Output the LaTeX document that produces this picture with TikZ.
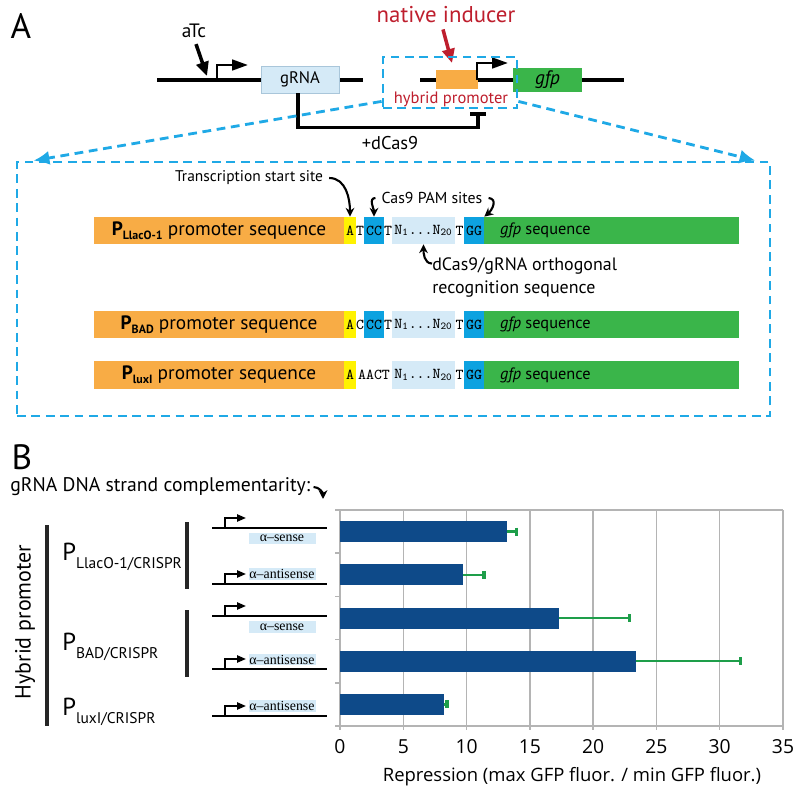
\documentclass[tikz,border=0pt]{standalone}
\usepackage{fontspec}
\setmainfont{PT Sans}
\newfontfamily\chartfont{Open Sans}
\newfontfamily\greekfont{Liberation Serif}
\usetikzlibrary{arrows.meta, positioning, calc}
\definecolor{promorange}{HTML}{F8AC45}
\definecolor{tssyellow}{HTML}{FFF200}
\definecolor{pamblue}{HTML}{0DA2E0}
\definecolor{guidelight}{HTML}{D5EAF7}
\definecolor{guideedge}{HTML}{A9C6DA}
\definecolor{gfpgreen}{HTML}{3AB54A}
\definecolor{zoomcyan}{HTML}{1FA9E6}
\definecolor{inducerred}{HTML}{BE1E2D}
\definecolor{barblue}{HTML}{0E4A89}
\definecolor{errgreen}{HTML}{1E9E4A}
\definecolor{gridgray}{HTML}{B4B4B4}
\newcommand\fsz[1]{\fontsize{#1}{#1}\selectfont}
\newcommand\seqf{\ttfamily\fsz{8.6}}

\begin{document}
\begin{tikzpicture}[
  x=0.2mm, y=-0.2mm,
  dna/.style={line width=2pt},
  promo/.style={line width=1.5pt, -{Triangle[length=9pt, width=6pt]}},
  seqbox/.style={inner sep=0, minimum height=5.4mm},
  seqtxt/.style={inner sep=0, font=\seqf},
  curvy/.style={line width=1.2pt, -{Stealth[length=5pt, width=5pt]}},
  zoomline/.style={zoomcyan, line width=1.6pt, dash pattern=on 5pt off 3.2pt},
  cline/.style={line width=1.1pt},
  minipromo/.style={line width=1.1pt, -{Triangle[length=5pt, width=4pt]}},
  alphabox/.style={fill=guidelight, inner sep=0, minimum width=13.4mm, minimum height=2.3mm, font=\greekfont\fsz{7.9}},
  groupbar/.style={line width=2.3pt, black!85},
  grid/.style={gridgray, line width=0.8pt},
  errbar/.style={errgreen, line width=1.3pt, -{Bar[width=4.5pt, line width=2pt]}},
  ticklab/.style={font=\chartfont\fsz{11}}
]
\useasboundingbox (0,0) rectangle (800,795);

% Panel A: circuit
\node[font=\fsz{20}] (labA) at (21,26) {A};
\coordinate (line1s) at (157,80);
\coordinate (line1e) at (363,80);
\draw[dna] (line1s) -- (line1e);
\coordinate (tet) at (217,80);
\draw[promo] (tet) |- (248,65);
\node[font=\fsz{11}] (atc) at (194,31) {aTc};
\draw[line width=2pt, -{Triangle[length=8pt, width=7pt]}] (atc.south) ++(2,0) -- (207,76);
\node[draw=guideedge, fill=guidelight, minimum width=15.6mm, minimum height=5.4mm, font=\fsz{9.5}] (grna) at (300,79.5) {gRNA};

\coordinate (line2s) at (420,80);
\coordinate (line2e) at (624,80);
\draw[dna] (line2s) -- (line2e);
\node[fill=promorange, inner sep=0, minimum width=8.4mm, minimum height=3.8mm] (hybop) at (457,79.5) {};
\coordinate (hyb) at (477,80);
\draw[promo] (hyb) |- (508,63);
\node[fill=gfpgreen, inner sep=0, minimum width=13.8mm, minimum height=4.8mm, font=\itshape\fsz{11}] (gfp) at (547.5,80) {gfp};
\node[text=inducerred, font=\fsz{9.4}, inner sep=0] (hyblab) at (451,99) {hybrid promoter};
\node[text=inducerred, font=\fsz{13}] (native) at (446,15) {native inducer};
\draw[inducerred, line width=2pt, -{Triangle[length=8pt, width=7pt]}] (native.south) ++(-3,0) -- (452,63);

% dCas9 repression
\coordinate (repend) at (478,112);
\draw[line width=2pt, -{Bar[width=9pt]}] ([xshift=-0.4mm]grna.south) -- ++(0,34) -| (repend);
\node[font=\fsz{10.5}] (dcas) at (390,143) {+dCas9};

% zoom-in
\node[draw=zoomcyan, line width=1.6pt, dash pattern=on 5pt off 3.2pt, inner sep=0, minimum width=26.8mm, minimum height=10.2mm] (hybbox) at (450,82.5) {};
\node[draw=zoomcyan, line width=1.6pt, dash pattern=on 5pt off 3.2pt, inner sep=0, minimum width=150.6mm, minimum height=50.8mm] (zoombox) at (393.5,289) {};
\draw[zoomline, -{Latex[length=9pt, width=8pt]}] ($(hybbox.south west)+(0,-8)$) -- ($(zoombox.north west)+(18,0)$);
\draw[zoomline, -{Latex[length=9pt, width=8pt]}] ($(hybbox.south east)+(0,-8)$) -- ($(zoombox.north east)+(-16,0)$);

% Sequences: PLlacO-1
\node[seqbox, fill=promorange, minimum width=50mm, font=\fsz{11}] (promA) at (219,230.5) {{\bfseries P\raisebox{-2.5pt}{\fsz{6.8}LlacO-1}} promoter sequence};
\node[seqbox, fill=tssyellow, minimum width=2.4mm] (tssA) at (350,230.5) {\seqf A};
\node[seqtxt] (gapA) at (360,230.5) {T};
\node[seqbox, fill=pamblue, minimum width=4mm] (pamA1) at (374,230.5) {\seqf CC};
\node[seqtxt] (tA1) at (388,230.5) {T};
\node[seqbox, fill=guidelight, minimum width=12.6mm] (guideA) at (423.5,230.5) {\seqf N\textsubscript{1}...N\textsubscript{20}};
\node[seqtxt] (tA2) at (459.5,230.5) {T};
\node[seqbox, fill=pamblue, minimum width=4mm] (pamA2) at (474,230.5) {\seqf GG};
\node[seqbox, fill=gfpgreen, minimum width=51mm] (gfpA) at (611.5,230.5) {};
\node[font=\fsz{9.3}, right=3.2mm of gfpA.west, inner sep=0] (gfptxtA) {\textit{gfp} sequence};

% annotations
\node[font=\fsz{8.8}] (tsslab) at (249,178) {Transcription start site};
\draw[curvy] (tsslab.east) to[out=0, in=90] (tssA.north);
\node[font=\fsz{9}] (pamlab) at (432,198) {Cas9 PAM sites};
\draw[curvy] (pamlab.west) to[out=180, in=90] (pamA1.north);
\draw[curvy] (pamlab.east) to[out=-5, in=40, looseness=1.3] (pamA2.north east);
\node[font=\fsz{10.2}, align=left, anchor=north west, inner sep=0] (recog) at (432,257) {dCas9/gRNA orthogonal\\[3pt]recognition sequence};
\draw[curvy] ([yshift=-1.3mm]recog.north west) to[out=180, in=-90] (guideA.south);

% Sequences: PBAD
\node[seqbox, fill=promorange, minimum width=50mm, font=\fsz{11}] (promB) at (219,324.5) {{\bfseries P\raisebox{-2.5pt}{\fsz{6.8}BAD}} promoter sequence};
\node[seqbox, fill=tssyellow, minimum width=2.4mm] (tssB) at (350,324.5) {\seqf A};
\node[seqtxt] (gapB) at (360,324.5) {C};
\node[seqbox, fill=pamblue, minimum width=4mm] (pamB1) at (374,324.5) {\seqf CC};
\node[seqtxt] (tB1) at (388,324.5) {T};
\node[seqbox, fill=guidelight, minimum width=12.6mm] (guideB) at (423.5,324.5) {\seqf N\textsubscript{1}...N\textsubscript{20}};
\node[seqtxt] (tB2) at (459.5,324.5) {T};
\node[seqbox, fill=pamblue, minimum width=4mm] (pamB2) at (474,324.5) {\seqf GG};
\node[seqbox, fill=gfpgreen, minimum width=51mm] (gfpB) at (611.5,324.5) {};
\node[font=\fsz{9.3}, right=3.2mm of gfpB.west, inner sep=0] (gfptxtB) {\textit{gfp} sequence};

% Sequences: PluxI
\node[seqbox, fill=promorange, minimum width=50mm, font=\fsz{11}] (promC) at (219,375) {{\bfseries P\raisebox{-2.5pt}{\fsz{6.8}luxI}} promoter sequence};
\node[seqbox, fill=tssyellow, minimum width=2.4mm] (tssC) at (350,375) {\seqf A};
\node[seqtxt] (gapC) at (374,375) {AACT};
\node[seqbox, fill=guidelight, minimum width=12.6mm] (guideC) at (423.5,375) {\seqf N\textsubscript{1}...N\textsubscript{20}};
\node[seqtxt] (tC2) at (459.5,375) {T};
\node[seqbox, fill=pamblue, minimum width=4mm] (pamC2) at (474,375) {\seqf GG};
\node[seqbox, fill=gfpgreen, minimum width=51mm] (gfpC) at (611.5,375) {};
\node[font=\fsz{9.3}, right=3.2mm of gfpC.west, inner sep=0] (gfptxtC) {\textit{gfp} sequence};

% Panel B
\node[font=\fsz{20}] (labB) at (22,457) {B};
\node[font=\fsz{11.2}, anchor=west, inner sep=0] (strand) at (10,487) {gRNA DNA strand complementarity:};
\draw[curvy] (strand.east) ++(3,0) to[out=0, in=90] (323,499);

\node[rotate=90, font=\fsz{12.5}] (hybrid) at (25,622) {Hybrid promoter};
\draw[groupbar] (47,525) -- (47,726);
\draw[groupbar] (187,522) -- (187,589);
\draw[groupbar] (187,610) -- (187,677);
\node[anchor=base west, inner sep=0, font=\fsz{14}] (plac) at (62,560) {P\raisebox{-5pt}{\fsz{8.8}LlacO-1/CRISPR}};
\node[anchor=base west, inner sep=0, font=\fsz{14}] (pbad) at (62,650) {P\raisebox{-5pt}{\fsz{8.8}BAD/CRISPR}};
\node[anchor=base west, inner sep=0, font=\fsz{14}] (plux) at (62,715) {P\raisebox{-5pt}{\fsz{8.8}luxI/CRISPR}};

% constructs
\foreach \i/\yy/\off/\lab in {1/528/10.5/sense, 2/584/-10/antisense, 3/616/11/sense, 4/669/-9.5/antisense, 5/716/-10/antisense} {
  \coordinate (cs\i) at (212,\yy);
  \coordinate (ce\i) at (327,\yy);
  \draw[cline] (cs\i) -- (ce\i);
  \draw[minipromo] (225,\yy) -- ++(0,-10) -- ++(21,0);
  \node[alphabox] (lab\i) at (282,{\yy+\off}) {α–\lab};
}

% bar chart
\foreach \k in {0,...,7} {
  \pgfmathtruncatemacro\tv{5*\k}
  \draw[grid] ({340+63.29*\k},510) -- ({340+63.29*\k},730);
  \node[ticklab] (tick\k) at ({340+63.29*\k},747) {\tv};
}
\draw[grid] (335,510) -- (783,510);
\draw[grid] (335,726) -- (783,726);
\foreach \j in {0,...,5}
  \draw[grid] (335,{510+43.2*\j}) -- (340,{510+43.2*\j});
\foreach \i/\val/\err in {1/13.2/14.1, 2/9.7/11.5, 3/17.3/23.0, 4/23.4/31.8, 5/8.2/8.6} {
  \pgfmathsetmacro\yc{510+43.2*(\i-0.5)}
  \fill[barblue] (340,{\yc-10.5}) rectangle ({340+12.657*\val},{\yc+10.5});
  \draw[errbar] ({340+12.657*\val},\yc) -- ({340+12.657*\err},\yc);
}
\node[font=\chartfont\fsz{10.5}] (xlab) at (572,777) {Repression (max GFP fluor. / min GFP fluor.)};
\end{tikzpicture}
\end{document}
